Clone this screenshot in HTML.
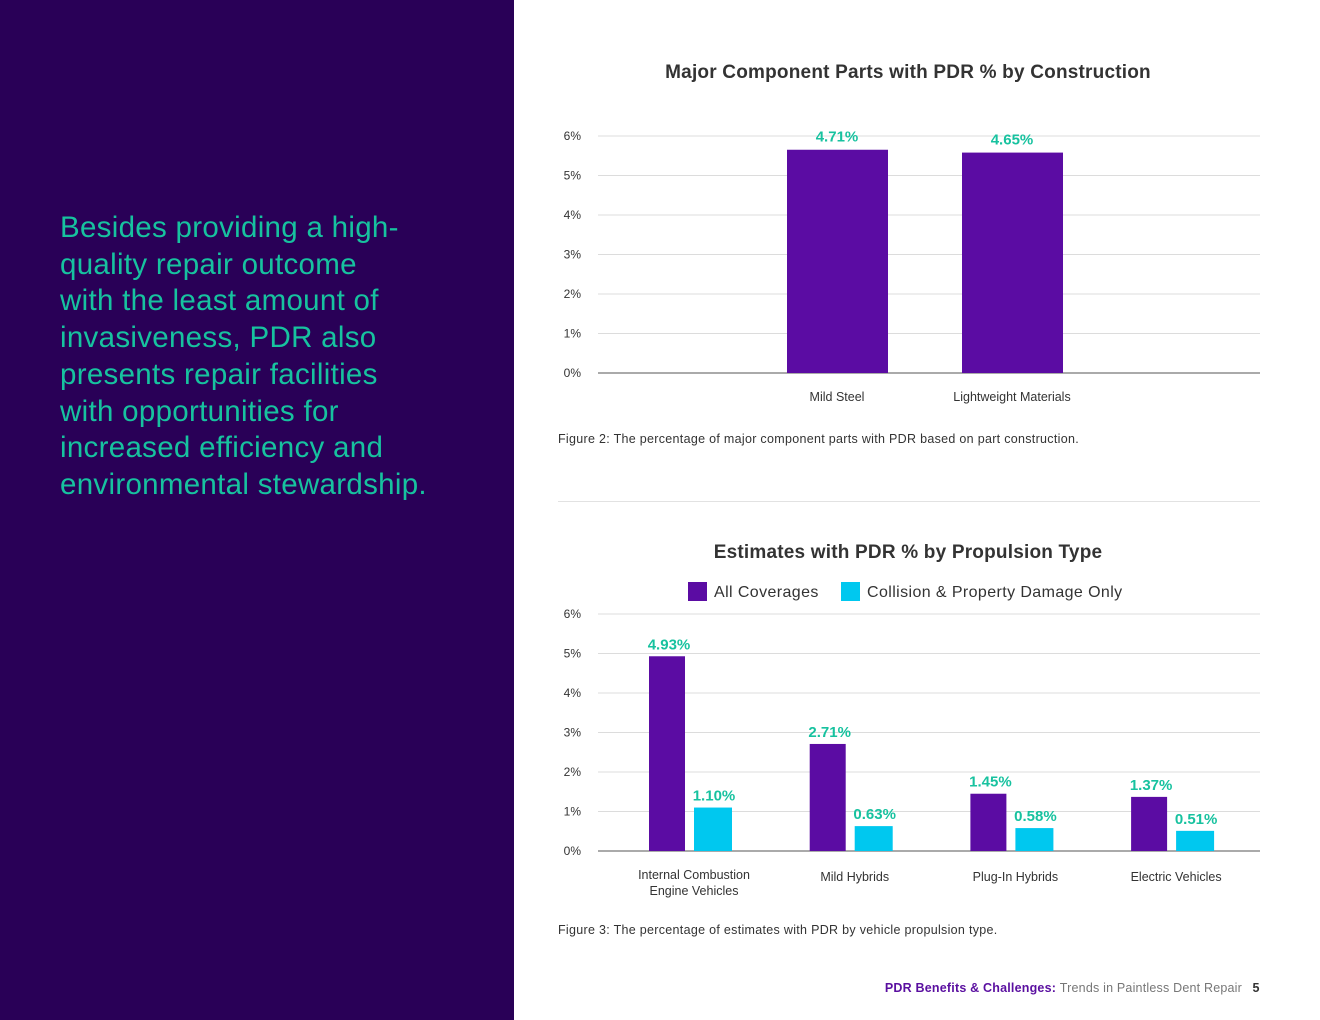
<!DOCTYPE html>
<html><head><meta charset="utf-8">
<style>
body{margin:0;width:1320px;height:1020px;position:relative;background:#fff;font-family:"Liberation Sans",sans-serif;overflow:hidden}
#left{position:absolute;left:0;top:0;width:514px;height:1020px;background:#290057}
#quote{position:absolute;left:60px;top:210px;width:450px;color:#17c29f;font-size:29.5px;line-height:36.7px;margin:0;letter-spacing:0.3px;white-space:nowrap}
svg{position:absolute;left:0;top:0}
</style></head><body>
<div id="left">
<p id="quote">Besides providing a high-<br>quality repair outcome<br>with the least amount of<br>invasiveness, PDR also<br>presents repair facilities<br>with opportunities for<br>increased efficiency and<br>environmental stewardship.</p>
</div>
<svg id="s" width="1320" height="1020"></svg>
<script>
const ticks=["0%","1%","2%","3%","4%","5%","6%"];
const c1Cats=["Mild Steel","Lightweight Materials"];
const c1Vals=[4.71,4.65];
const c2Cats=[["Internal Combustion","Engine Vehicles"],["Mild Hybrids"],["Plug-In Hybrids"],["Electric Vehicles"]];
const c2All=[4.93,2.71,1.45,1.37];
const c2Col=[1.10,0.63,0.58,0.51];
const NS="http://www.w3.org/2000/svg";
const s=document.getElementById('s');
function el(t,a,txt){const e=document.createElementNS(NS,t);for(const k in a)e.setAttribute(k,a[k]);if(txt!=null)e.textContent=txt;s.appendChild(e);return e;}
const PUR="#5b0ca3",CY="#00c8ef",TEAL="#17c29f";
function axis(base,name){
  const y=v=>base-v*39.5;
  ticks.forEach((t,i)=>{
    const g=el('line',{x1:598,x2:1260,y1:y(i),y2:y(i),stroke:i?"#dcdcdc":"#aaa","stroke-width":i?1:2});
    
    const l=el('text',{x:581,y:y(i)+4,"text-anchor":"end","font-size":12,fill:"#333"},t);
    
  });
  return y;
}
// chart 1
let t=el('text',{x:908,y:78,"text-anchor":"middle","font-size":19,"font-weight":"bold",fill:"#333","letter-spacing":0.2},"Major Component Parts with PDR % by Construction");

const y1=axis(373,'chart1');
const y1b=v=>373-v*1.2*39.5;
c1Cats.forEach((c,i)=>{
  const cx=837+i*175;
  const b=el('rect',{x:cx-50,y:y1b(c1Vals[i]),width:101,height:373-y1b(c1Vals[i]),fill:PUR});
  
  const v=el('text',{x:cx,y:y1b(c1Vals[i])-8,"text-anchor":"middle","font-size":15,"font-weight":"bold",fill:TEAL},c1Vals[i].toFixed(2)+"%");
  
  const l=el('text',{x:cx,y:401,"text-anchor":"middle","font-size":12.5,fill:"#333"},c);
  
});
t=el('text',{x:558,y:443,"font-size":12.5,fill:"#333","letter-spacing":0.3},"Figure 2: The percentage of major component parts with PDR based on part construction.");

t=el('line',{x1:558,x2:1260,y1:501.5,y2:501.5,stroke:"#e2e2e2"});

// chart 2
t=el('text',{x:908,y:558,"text-anchor":"middle","font-size":19,"font-weight":"bold",fill:"#333","letter-spacing":0.2},"Estimates with PDR % by Propulsion Type");

t=el('rect',{x:688,y:582,width:19,height:19,fill:PUR});
t=el('text',{x:714,y:597,"font-size":16,fill:"#333","letter-spacing":0.4},"All Coverages");
t=el('rect',{x:841,y:582,width:19,height:19,fill:CY});
t=el('text',{x:867,y:597,"font-size":16,fill:"#333","letter-spacing":0.4},"Collision & Property Damage Only");
const y2=axis(851,'chart2');
c2Cats.forEach((c,i)=>{
  const cx=694+i*160.7;
  const a=el('rect',{x:cx-45,y:y2(c2All[i]),width:36,height:851-y2(c2All[i]),fill:PUR});
  
  const b=el('rect',{x:cx,y:y2(c2Col[i]),width:38,height:851-y2(c2Col[i]),fill:CY});
  
  let v=el('text',{x:cx-25,y:y2(c2All[i])-7,"text-anchor":"middle","font-size":15,"font-weight":"bold",fill:TEAL},c2All[i].toFixed(2)+"%");
  
  v=el('text',{x:cx+20,y:y2(c2Col[i])-7,"text-anchor":"middle","font-size":15,"font-weight":"bold",fill:TEAL},c2Col[i].toFixed(2)+"%");
  
  c.forEach((ln,j)=>{
    const l=el('text',{x:cx,y:(c.length>1?879:881)+j*16,"text-anchor":"middle","font-size":12.5,fill:"#333"},ln);
    
  });
});
t=el('text',{x:558,y:934,"font-size":12.5,fill:"#333","letter-spacing":0.3},"Figure 3: The percentage of estimates with PDR by vehicle propulsion type.");

t=el('text',{x:1242,y:992,"text-anchor":"end","font-size":12.5,fill:"#777","letter-spacing":0.2},"");

const ts=document.createElementNS(NS,'tspan');ts.setAttribute('font-weight','bold');ts.setAttribute('fill','#5a0fa0');ts.textContent="PDR Benefits & Challenges: ";t.appendChild(ts);
const ts2=document.createElementNS(NS,'tspan');ts2.textContent="Trends in Paintless Dent Repair";t.appendChild(ts2);
t=el('text',{x:1256,y:992,"text-anchor":"middle","font-size":12.5,"font-weight":"bold",fill:"#333"},"5");

</script>
</body></html>
